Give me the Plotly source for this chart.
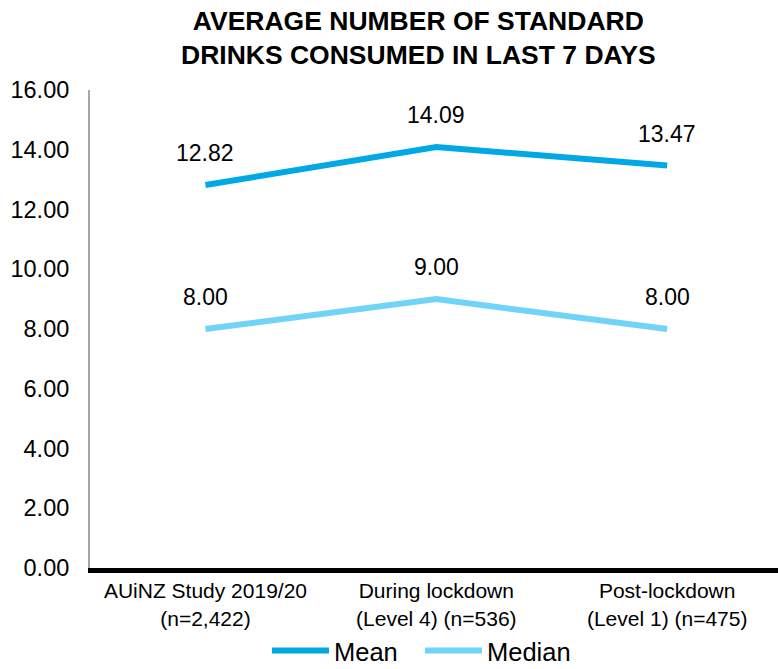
import plotly.graph_objects as go

categories = ["AUiNZ Study 2019/20<br>(n=2,422)",
              "During lockdown<br>(Level 4) (n=536)",
              "Post-lockdown<br>(Level 1) (n=475)"]
mean_values = [12.82, 14.09, 13.47]
median_values = [8.00, 9.00, 8.00]
y_ticks = [0, 2, 4, 6, 8, 10, 12, 14, 16]

MEAN_COLOR = "#00A9E3"
MEDIAN_COLOR = "#6FD4F7"
FONT = "Liberation Sans, Arial, sans-serif"
TITLE = "<b>AVERAGE NUMBER OF STANDARD<br>DRINKS CONSUMED IN LAST 7 DAYS</b>"

fig = go.Figure()
fig.add_trace(go.Scatter(x=categories, y=mean_values, mode="lines", name="Mean",
                         line=dict(color=MEAN_COLOR, width=6)))
fig.add_trace(go.Scatter(x=categories, y=median_values, mode="lines", name="Median",
                         line=dict(color=MEDIAN_COLOR, width=6)))

for series in (mean_values, median_values):
    for c, v in zip(categories, series):
        fig.add_annotation(x=c, y=v, text=f"{v:.2f}", showarrow=False,
                           yshift=32, font=dict(size=23, color="#000000", family=FONT))

# chart title (as an annotation so the two-line block is anchored by its top)
fig.add_annotation(text=TITLE, xref="paper", yref="paper", x=(418 - 90) / 688,
                   y=1 + (90 - 4) / 478, xanchor="center", yanchor="top",
                   showarrow=False, font=dict(size=26.5, family=FONT, color="#000000"))

fig.update_layout(
    width=778, height=669,
    margin=dict(l=90, r=0, t=90, b=101, autoexpand=False),
    paper_bgcolor="white", plot_bgcolor="white",
    font=dict(family=FONT, color="#000000"),
    showlegend=True,
    legend=dict(orientation="h", xref="container", x=267 / 778, xanchor="left",
                yref="paper", y=-(651 - 568) / 478, yanchor="middle",
                font=dict(size=25.5, family=FONT), itemwidth=57, traceorder="normal",
                entrywidth=81, entrywidthmode="pixels",
                bgcolor="rgba(0,0,0,0)"),
    xaxis=dict(type="category", range=[-0.5, 2.48], showgrid=False, zeroline=False,
               automargin=False,
               showline=True, linecolor="#000000", linewidth=5, ticks="",
               tickfont=dict(size=21, family=FONT, color="#000000")),
    yaxis=dict(range=[0, 16], tickvals=y_ticks, tickformat=".2f", showgrid=False,
               automargin=False, ticklabelstandoff=14,
               zeroline=False, showline=True, linecolor="#A6A6A6", linewidth=2,
               ticks="", ticklen=0, tickfont=dict(size=23.5, family=FONT, color="#000000")),
)

fig.write_html("out.html", config={"displayModeBar": False},
               post_script="document.body.style.margin='0';document.body.style.padding='0';")
